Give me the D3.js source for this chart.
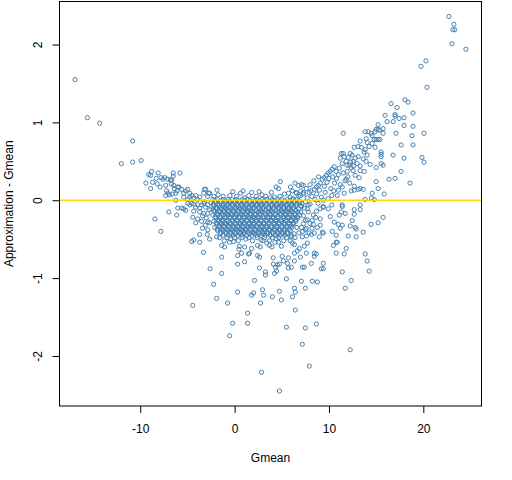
<!DOCTYPE html>
<html>
<head>
<meta charset="utf-8">
<script src="https://cdn.jsdelivr.net/npm/d3@7"></script>
<style>
  body { margin: 0; background: #fff; }
  text { font-family: "Liberation Sans", Arial, sans-serif; fill: #000; }
</style>
</head>
<body>
<svg id="chart" width="512" height="480"></svg>
<script>
// -- values: [Gmean, Approximation - Gmean] -- //
const leftArm = [
  [-16.9,1.55],[-15.6,1.06],[-14.3,0.99],[-10.8,0.76],[-12.0,0.47],[-10.8,0.49],[-9.9,0.51],
  [-8.8,0.37],[-9.1,0.33],[-8.9,0.32],[-8.1,0.35],[-6.5,0.35],[-6.5,0.31],[-5.8,0.35],
  [-8.3,0.28],[-7.8,0.29],[-7.4,0.29],[-7.6,0.27],[-7.1,0.27],[-9.4,0.22],[-8.7,0.23],
  [-8.9,0.15],[-7.9,0.17],[-8.2,0.21],[-7.3,0.19],[-6.7,0.21],[-6.8,0.26],[-5.9,0.17],
  [-7.2,0.12],[-6.4,0.15],[-6.1,0.12],[-7.3,0.06],[-6.9,0.07],[-6.6,0.08],[-3.2,0.14],
  [-3.3,-0.67],[-6.65,0.26],[-7.08,0.09],[-6.44,0.19]
];

const leftCore = [
  [-6.02,0.17],[-5.6,0.14],[-5.39,0.09],[-5.18,0.12],[-4.96,0.14],[-4.75,0.09],[-4.54,0.06],
  [-5.39,0.04],[-4.96,0.01],[-4.75,0.04],[-4.33,0.03],[-4.12,0.06],[-3.91,0.01],[-3.7,0.04],
  [-3.27,0.09],[-3.06,0.14],[-2.85,0.05],[-2.64,0.09],[-6.23,0.0],[-6.23,0.09],
  [-6.02,-0.10],[-5.6,-0.10],[-5.39,-0.11],[-5.18,-0.13],[-6.97,-0.15],[-6.13,-0.19],
  [-8.45,-0.24],[-7.82,-0.40],[-4.96,-0.04],[-4.75,-0.06],[-4.54,-0.04],[-4.33,-0.05],
  [-4.12,-0.09],[-3.91,-0.06],[-3.7,-0.10],[-3.49,-0.06],[-3.27,-0.04],[-3.06,-0.09],
  [-2.85,-0.06],[-2.64,-0.12],[-4.33,-0.14],[-3.7,-0.15],[-3.27,-0.17],[-2.85,-0.17],
  [-4.44,-0.22],[-3.91,-0.24],[-4.12,-0.29],[-2.85,-0.28],[-2.64,-0.29],[-3.7,-0.44],
  [-3.7,-0.54],[-4.54,-0.53],[-4.33,-0.51],[-2.64,-0.50],[-2.85,-0.38],
  [-2.6,-0.88],[-4.44,-1.35]
];

// dense band under the zero line, one row of Gmean values per level
const bandY = [0.01,-0.03,-0.07,-0.11,-0.15,-0.19,-0.23,-0.27,-0.31,-0.35,-0.39,-0.43,-0.48,-0.52];
const bandX = [
  [-2.3,-1.8,-1.2,-0.7,-0.3,0.2,0.8,1.3,1.9,2.4,2.9,3.4,4.0,4.5,5.0,5.6,6.1,6.6],
  [-2.5,-2.0,-1.5,-1.0,-0.5,0.0,0.5,1.0,1.6,2.1,2.6,3.1,3.7,4.2,4.8,5.3,5.8,6.3,6.9],
  [-2.2,-1.7,-1.3,-0.8,-0.2,0.3,0.7,1.2,1.8,2.3,2.8,3.3,3.9,4.4,4.9,5.5,6.0,6.5,7.0],
  [-2.4,-1.9,-1.4,-0.9,-0.4,0.1,0.6,1.1,1.5,2.0,2.6,3.0,3.6,4.1,4.7,5.2,5.7,6.2,6.8],
  [-2.1,-1.6,-1.1,-0.6,-0.1,0.4,0.9,1.4,1.9,2.5,2.9,3.5,4.0,4.6,5.1,5.6,6.1,6.7],
  [-2.3,-1.8,-1.2,-0.7,-0.3,0.2,0.8,1.2,1.7,2.2,2.7,3.3,3.8,4.3,4.9,5.4,5.9,6.4,6.9],
  [-2.0,-1.5,-1.0,-0.5,0.0,0.5,1.0,1.6,2.1,2.5,3.1,3.6,4.1,4.6,5.2,5.7,6.3,6.7],
  [-2.2,-1.7,-1.3,-0.8,-0.2,0.3,0.7,1.3,1.8,2.3,2.8,3.4,3.9,4.4,5.0,5.5,6.0,6.5],
  [-1.9,-1.4,-0.9,-0.4,0.1,0.6,1.1,1.5,2.0,2.6,3.1,3.6,4.2,4.7,5.3,5.8,6.2],
  [-2.1,-1.6,-1.1,-0.6,-0.1,0.4,0.9,1.4,1.9,2.4,2.9,3.4,3.9,4.5,5.0,5.5,6.1,6.6],
  [-1.8,-1.2,-0.7,-0.2,0.3,0.8,1.2,1.7,2.2,2.8,3.2,3.7,4.3,4.8,5.3,5.9],
  [-1.5,-0.9,-0.4,0.1,0.6,1.0,1.6,2.1,2.6,3.0,3.5,4.1,4.6,5.1,5.6,6.3],
  [-1.6,-0.8,0.0,0.8,1.5,2.4,3.2,4.0,4.7,5.5,6.4],
  [-1.1,0.4,1.9,3.0,3.7,5.2,5.9]
];

// second, staggered set of rows that fills the gaps in the band
const bandY2 = [-0.01,-0.05,-0.09,-0.13,-0.17,-0.21,-0.25,-0.29,-0.33,-0.37,-0.41,-0.45];
const bandX2 = [
  [-2.05,-1.45,-0.95,-0.5,0.05,0.55,1.05,1.6,2.15,2.65,3.15,3.7,4.25,4.75,5.3,5.85,6.35,6.85],
  [-2.25,-1.75,-1.2,-0.75,-0.25,0.3,0.75,1.3,1.85,2.35,2.85,3.4,3.95,4.5,5.05,5.55,6.05,6.6],
  [-1.95,-1.5,-1.05,-0.55,0.0,0.5,1.0,1.5,2.05,2.55,3.05,3.6,4.15,4.65,5.2,5.75,6.25],
  [-2.2,-1.65,-1.15,-0.65,-0.15,0.35,0.85,1.35,1.75,2.3,2.8,3.3,3.85,4.4,4.95,5.45,5.95,6.5],
  [-1.85,-1.35,-0.85,-0.35,0.15,0.65,1.15,1.65,2.2,2.7,3.2,3.75,4.3,4.85,5.35,5.85,6.4],
  [-2.05,-1.55,-0.95,-0.5,0.0,0.5,1.0,1.45,1.95,2.45,3.0,3.55,4.05,4.6,5.15,5.65,6.15,6.65],
  [-1.75,-1.25,-0.75,-0.25,0.25,0.75,1.3,1.85,2.3,2.8,3.35,3.85,4.35,4.9,5.45,6.0,6.5],
  [-1.95,-1.5,-1.05,-0.5,0.05,0.5,1.0,1.55,2.05,2.55,3.1,3.65,4.15,4.7,5.25,5.75,6.25],
  [-1.65,-1.15,-0.65,-0.15,0.35,0.85,1.3,1.75,2.3,2.85,3.35,3.9,4.45,5.0,5.55,6.0],
  [-1.85,-1.35,-0.85,-0.35,0.15,0.65,1.15,1.65,2.15,2.65,3.15,3.65,4.2,4.75,5.25,5.8],
  [-1.5,-0.95,-0.45,0.05,0.55,1.0,1.45,1.95,2.5,3.0,3.45,4.0,4.55,5.05,5.6],
  [-1.2,-0.65,-0.15,0.35,0.8,1.3,1.85,2.35,2.8,3.25,3.8,4.35,4.85,5.35,6.0]
];

// ragged edges of the band, left, right, just above the line and at its foot
const bandEdges = [
  [-3.4,-0.2],[-3.1,-0.32],[-3.5,-0.27],[-2.9,-0.44],[-3.2,-0.02],[-3.0,-0.23],[-3.4,-0.36],
  [7.3,-0.3],[7.8,-0.15],[7.5,-0.38],[8.2,-0.36],[7.9,-0.42],[7.1,-0.08],
  [-1.2,0.05],[-0.5,0.06],[0.2,0.05],[1.5,0.06],[2.3,0.05],[2.9,0.07],[3.3,0.05],[4.8,0.05],
  [5.9,0.04],[-2.2,0.05],[0.9,0.12],[2.6,0.11],[3.9,0.1],[-0.2,0.11],
  [-1.9,-0.47],[-0.4,-0.5],[1.2,-0.5],[2.8,-0.51],[4.4,-0.49],[6.0,-0.47],[6.8,-0.42]
];

const aboveCore = [
  [4.86,0.24],[4.65,0.15],[5.92,0.17],[6.76,0.19],[7.29,0.19],[5.7,0.09],[5.28,0.08],
  [6.13,0.12],[6.55,0.09],[1.8,0.10],[0.63,0.09],[1.06,0.03],[3.8,0.03],[4.23,0.04],
  [6.97,0.06],[7.29,0.10],[-1.86,0.13],[-1.75,0.07],[4.4,0.17],[6.4,0.22],[-2.75,0.09]
];

const lowerTail = [
  [-2.22,-1.08],[-1.9,-1.26],[-1.37,-0.73],[-1.37,-0.94],[-0.74,-1.32],[-0.21,-1.58],
  [-0.53,-1.74],[0.32,-0.82],[0.32,-0.71],[0.32,-1.18],[1.06,-0.79],[1.37,-1.45],[1.37,-1.58],
  [1.8,-1.22],[2.01,-1.19],[2.11,-1.03],[2.64,-0.87],[2.75,-1.32],[2.96,-1.15],[3.06,-1.22],
  [3.27,-0.92],[3.27,-0.96],[2.85,-2.21],[4.01,-1.24],[4.23,-0.94],[4.75,-1.17],[4.96,-1.28],
  [4.75,-2.45],[5.49,-1.01],[5.49,-1.63],[6.13,-1.24],[6.34,-1.13],[6.44,-1.18],[6.44,-1.41],
  [7.08,-1.04],[7.5,-1.13],[7.5,-1.64],[7.18,-1.85],[7.92,-2.13],[5.7,-0.87],[6.02,-0.86],
  [4.12,-0.82],[4.33,-0.86],[4.54,-0.83],[4.75,-0.82],[4.44,-0.91],[5.6,-0.81],[5.7,-0.74],
  [6.34,-0.78],[6.34,-0.68],[6.97,-0.73],[6.65,-0.65],[5.04,-0.72],[5.18,-0.78],[4.09,-0.74],
  [2.64,-0.73],[2.43,-0.71],[1.48,-0.69],[1.58,-0.68],[0.74,-0.68],[-1.37,-0.58],[-1.06,-0.6],
  [-0.53,-0.54],[-0.11,-0.53],[0.5,-0.59],[1.06,-0.6],[1.8,-0.62],[2.43,-0.58],[2.71,-0.6],
  [3.42,-0.55],[3.7,-0.58],[3.95,-0.6],[4.27,-0.54],[4.65,-0.54],[4.96,-0.59],[6.13,-0.55],
  [6.34,-0.57],[6.87,-0.62],[7.71,-0.55],[0.46,-0.63]
];

const rightLower = [
  [15.74,-0.22],[15.21,-0.29],[14.47,-0.31],[13.63,-0.41],[12.89,-0.47],[12.04,-0.46],
  [12.46,-0.26],[12.68,-0.18],[12.68,-0.12],[13.31,-0.12],[13.31,-0.06],[11.72,-0.17],
  [12.25,-0.33],[12.78,-0.35],[12.89,-0.37],[11.41,-0.32],[11.2,-0.36],[10.56,-0.28],
  [10.99,-0.31],[10.35,-0.4],[10.77,-0.45],[10.77,-0.54],[10.88,-0.54],[10.46,-0.58],
  [11.83,-0.62],[11.62,-0.69],[10.77,-0.68],[13.84,-0.69],[14.05,-0.78],[14.26,-0.91],
  [11.41,-0.92],[12.36,-1.03],[11.72,-1.13],[9.4,-0.81],[9.4,-0.88],[9.19,-0.88],
  [8.13,-0.81],[8.66,-0.69],[8.45,-0.68],[8.45,-0.72],[7.6,-0.68],[7.18,-0.86],[7.39,-0.86],
  [8.24,-1.04],[8.77,-1.05],[8.66,-1.59],[12.25,-1.92],[7.39,-0.59],[7.18,-0.47],[7.6,-0.46],
  [8.13,-0.44],[8.45,-0.42],[8.98,-0.47],[9.3,-0.41],[9.4,-0.42],[8.34,-0.31],[8.77,-0.35],
  [9.08,-0.32],[9.08,-0.24],[8.24,-0.26],[7.5,-0.26],[7.6,-0.36],[7.08,-0.35],[10.14,-0.21],
  [9.93,-0.11],[11.3,-0.15],[11.09,-0.19],[11.41,-0.08],[8.34,-0.19],[7.39,-0.1],[7.71,-0.11],
  [8.66,-0.14],[9.08,-0.11],[9.4,-0.08],[7.15,-0.04],[7.8,-0.06],[8.85,-0.04],[9.4,-0.09],
  [10.3,-0.06],[11.4,-0.06],[7.0,-0.15],[7.3,-0.2],[7.7,-0.25],[8.0,-0.3],[7.2,-0.4],
  [8.6,-0.22],[8.0,-0.05],[7.5,-0.02]
];

const rightRamp = [
  [11.51,0.86],[15.21,0.97],[15.0,0.91],[15.21,0.91],[14.89,0.88],[14.47,0.86],[14.15,0.88],
  [13.84,0.88],[14.58,0.83],[13.94,0.79],[14.79,0.78],[15.0,0.78],[15.21,0.78],[14.05,0.74],
  [14.58,0.73],[13.31,0.76],[13.1,0.69],[12.68,0.68],[13.42,0.68],[13.84,0.65],[14.26,0.69],
  [14.89,0.68],[15.0,0.42],[14.37,0.46],[13.73,0.62],[14.05,0.58],[13.63,0.53],[13.94,0.5],
  [13.1,0.56],[12.78,0.54],[12.99,0.47],[12.57,0.5],[13.31,0.44],[13.73,0.37],[15.0,0.24],
  [15.21,0.15],[14.58,0.09],[14.79,0.01],[13.84,0.01],[13.31,0.15],[13.63,0.14],[13.1,0.14],
  [12.68,0.18],[12.68,0.13],[13.2,0.29],[12.78,0.32],[13.31,0.38],[12.57,0.38],[11.83,0.27],
  [11.41,0.17],[12.36,0.12],[11.62,0.09],[10.88,0.06],[10.99,0.13],[11.3,0.6],[11.51,0.6],
  [11.2,0.54],[11.62,0.56],[12.04,0.55],[12.25,0.6],[12.46,0.58],[11.83,0.5],[11.41,0.47],
  [12.15,0.45],[12.36,0.42],[11.94,0.37],[11.51,0.35],[11.09,0.41],[10.77,0.37],[10.56,0.43],
  [10.35,0.4],[10.14,0.37],[9.93,0.35],[9.72,0.32],[9.51,0.29],[9.3,0.27],[9.08,0.22],
  [8.87,0.19],[8.66,0.17],[8.45,0.14],[7.0,0.12],[7.3,0.08],[7.6,0.15],[7.9,0.1],[8.2,0.05],
  [8.0,0.2],[8.4,0.25],[8.7,0.08],[9.0,0.13],[9.2,0.04],[9.5,0.18],[9.8,0.23],[9.6,0.1],
  [10.0,0.28],[10.2,0.15],[10.4,0.3],[10.6,0.22],[10.8,0.28],[11.0,0.33],[10.3,0.06],
  [9.9,0.02],[8.9,0.3],[8.1,0.12],[7.7,0.03],[6.8,0.05],[6.5,0.1],[6.2,0.02],[7.1,0.2],
  [8.5,0.01],[9.4,0.0],[10.5,0.12],[11.2,0.2],[11.7,0.25],[12.0,0.3],[12.2,0.22],[11.9,0.45],
  [12.3,0.49],[12.6,0.44],[14.5,0.03],[15.85,0.08]
];

const rightArm = [
  [22.71,2.36],[23.24,2.26],[23.13,2.19],[23.34,2.19],[23.03,2.01],[24.51,1.94],[20.28,1.79],
  [19.75,1.72],[20.39,1.45],[18.06,1.29],[18.38,1.26],[16.58,1.24],[17.22,1.19],[18.91,1.12],
  [15.95,1.09],[17.01,1.10],[17.01,1.08],[17.43,1.05],[17.96,1.06],[16.16,1.01],[16.8,1.01],
  [17.96,0.96],[18.91,0.95],[15.74,0.92],[15.39,0.9],[15.74,0.86],[15.39,0.78],[17.11,0.86],
  [18.8,0.83],[20.07,0.86],[17.64,0.71],[18.91,0.71],[15.53,0.62],[15.53,0.59],[15.53,0.56],
  [16.8,0.58],[17.96,0.54],[19.86,0.55],[20.07,0.49],[15.74,0.45],[15.53,0.47],[17.64,0.37],
  [16.37,0.27],[17.01,0.28],[18.59,0.22]
];

const xTicks = [-10, 0, 10, 20];
const yTicks = [-2, -1, 0, 1, 2];
const xTitle = "Gmean";
const yTitle = "Approximation - Gmean";

// -- assemble all points -- //
let band = [];
bandY.forEach((y, i) => bandX[i].forEach(x => band.push([x, y])));
bandY2.forEach((y, i) => bandX2[i].forEach(x => band.push([x, y])));
let points = [].concat(leftArm, leftCore, band, bandEdges, aboveCore, lowerTail, rightLower, rightRamp, rightArm);

// -- R style plot region and 4% padded limits -- //
let plotLeft = 59.5, plotRight = 481.5, plotTop = 1.5, plotBottom = 406;
let pad = ext => { let r = ext[1] - ext[0]; return [ext[0] - r * 0.04, ext[1] + r * 0.04]; };

let xScale = d3.scaleLinear()
  .domain(pad(d3.extent(points, d => d[0])))
  .range([plotLeft, plotRight]);
let yScale = d3.scaleLinear()
  .domain(pad(d3.extent(points, d => d[1])))
  .range([plotBottom, plotTop]);

let svg = d3.select("#chart");

// -- axes (plain hyphen minus, like R) -- //
let xAxis = d3.axisBottom(xScale).tickValues(xTicks).tickSize(7).tickPadding(4).tickFormat(d => String(d));
let yAxis = d3.axisLeft(yScale).tickValues(yTicks).tickSize(7).tickPadding(4).tickFormat(d => String(d));

let gx = svg.append("g")
  .attr("transform", `translate(0, ${plotBottom})`)
  .call(xAxis);
gx.select(".domain").remove();
gx.selectAll("line").attr("stroke", "#000");
gx.selectAll("text")
  .attr("font-size", 12)
  .attr("font-family", "Liberation Sans, Arial, sans-serif")
  .attr("y", 27).attr("dy", 0);

let gy = svg.append("g")
  .attr("transform", `translate(${plotLeft}, 0)`)
  .call(yAxis);
gy.select(".domain").remove();
gy.selectAll("line").attr("stroke", "#000");
gy.selectAll("text")
  .attr("font-size", 12)
  .attr("font-family", "Liberation Sans, Arial, sans-serif")
  .attr("x", 0).attr("y", 0).attr("dy", null)
  .attr("text-anchor", "middle")
  .attr("transform", "translate(-17.5, 0) rotate(-90)");

// -- axis titles -- //
svg.append("text")
  .attr("x", (plotLeft + plotRight) / 2)
  .attr("y", 462)
  .attr("text-anchor", "middle")
  .attr("font-size", 12)
  .text(xTitle);

svg.append("text")
  .attr("transform", `translate(13, ${(plotTop + plotBottom) / 2}) rotate(-90)`)
  .attr("text-anchor", "middle")
  .attr("font-size", 12)
  .text(yTitle);

// -- points -- //
svg.append("g")
  .selectAll("circle")
  .data(points)
  .enter()
  .append("circle")
  .attr("cx", d => xScale(d[0]))
  .attr("cy", d => yScale(d[1]))
  .attr("r", 2.1)
  .style("fill", "none")
  .style("stroke", "#4682B4")
  .style("stroke-width", 1);

// -- zero reference line -- //
svg.append("line")
  .attr("x1", plotLeft).attr("x2", plotRight)
  .attr("y1", yScale(0)).attr("y2", yScale(0))
  .style("stroke", "#FFD700")
  .style("stroke-width", 1.5);

// -- box -- //
svg.append("rect")
  .attr("x", plotLeft).attr("y", plotTop)
  .attr("width", plotRight - plotLeft).attr("height", plotBottom - plotTop)
  .style("fill", "none")
  .style("stroke", "#000")
  .style("stroke-width", 1);
</script>
</body>
</html>
